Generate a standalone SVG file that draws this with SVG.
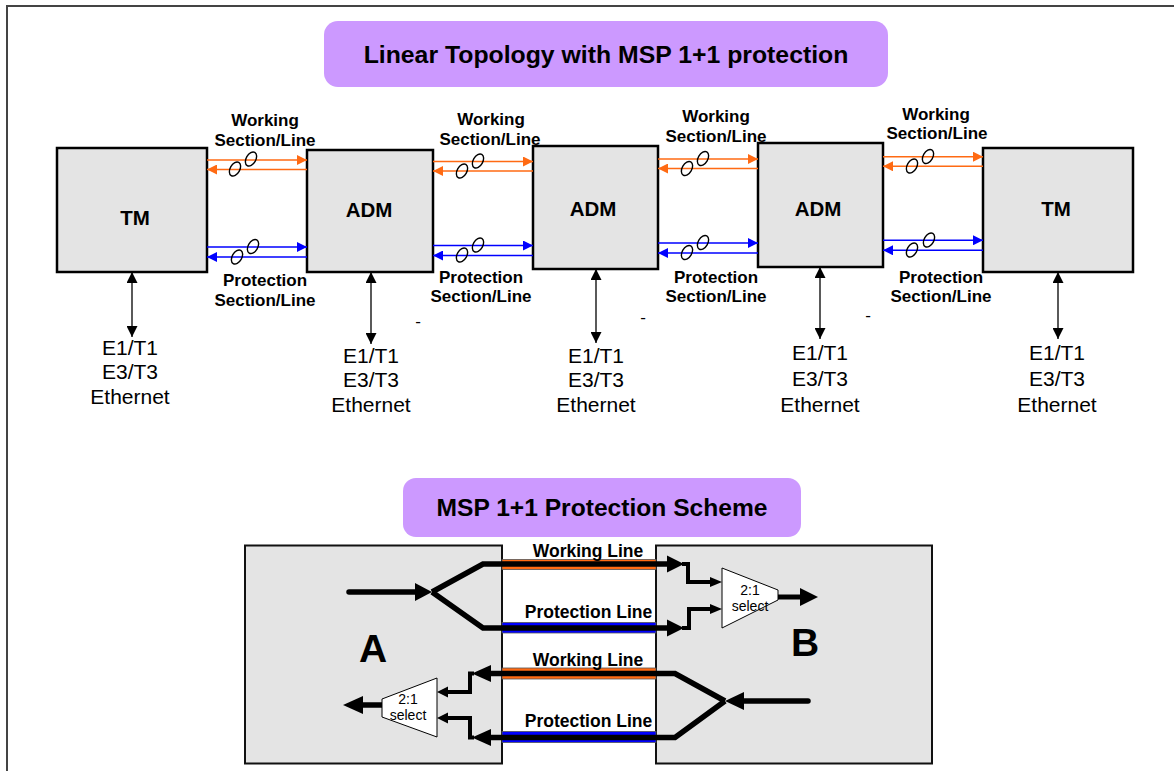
<svg xmlns="http://www.w3.org/2000/svg" width="1174" height="771" viewBox="0 0 1174 771">
<defs>
<style>
.b{font-family:"Liberation Sans",Arial,sans-serif;font-weight:bold;fill:#000}
.r{font-family:"Liberation Sans",Arial,sans-serif;fill:#000}
.node{fill:#e4e4e4;stroke:#000;stroke-width:2.5}
.title{fill:#cc99ff}
.or{stroke:#ff6a13;stroke-width:1.6;fill:none}
.bl{stroke:#0000ff;stroke-width:1.6;fill:none}
.ell{fill:none;stroke:#000;stroke-width:1.4}
.v{stroke:#000;stroke-width:1.3;fill:none}
.thick{stroke:#000;stroke-width:5.5;fill:none;stroke-linejoin:miter}
.thin{stroke:#000;stroke-width:4;fill:none}
.big{fill:#000}
.box{fill:#e4e4e4;stroke:#111;stroke-width:2}
</style>
<marker id="ao" viewBox="0 0 10 10" refX="10" refY="5" markerWidth="11" markerHeight="10" markerUnits="userSpaceOnUse" orient="auto-start-reverse"><path d="M0,0 L10,5 L0,10 z" fill="#ff6a13"/></marker>
<marker id="ab" viewBox="0 0 10 10" refX="10" refY="5" markerWidth="11" markerHeight="10" markerUnits="userSpaceOnUse" orient="auto-start-reverse"><path d="M0,0 L10,5 L0,10 z" fill="#0000ff"/></marker>
<marker id="ak" viewBox="0 0 10 10" refX="10" refY="5" markerWidth="12" markerHeight="11" markerUnits="userSpaceOnUse" orient="auto-start-reverse"><path d="M0,0 L10,5 L0,10 z" fill="#000"/></marker>
<ellipse id="e" cx="0" cy="0" rx="4.8" ry="7.6" transform="rotate(30)" class="ell"/>
</defs>
<rect width="1174" height="771" fill="#fff"/>
<rect x="7" y="6" width="1200" height="820" fill="none" stroke="#444" stroke-width="2"/>

<g id="title1">
<rect class="title" x="324" y="21" width="564" height="66" rx="14"/>
<text class="b" x="606" y="63" font-size="24.8" text-anchor="middle">Linear Topology with MSP 1+1 protection</text>
</g>

<g id="tm1"><rect class="node" x="57" y="148" width="150" height="124"/><text class="b" x="135" y="225" font-size="20.5" text-anchor="middle">TM</text></g>
<g id="adm1"><rect class="node" x="307" y="150" width="126" height="122"/><text class="b" x="369" y="216.5" font-size="20.5" text-anchor="middle">ADM</text></g>
<g id="adm2"><rect class="node" x="533" y="146" width="125" height="123"/><text class="b" x="593" y="215.5" font-size="20.5" text-anchor="middle">ADM</text></g>
<g id="adm3"><rect class="node" x="758" y="143" width="125" height="124"/><text class="b" x="818" y="215.5" font-size="20.5" text-anchor="middle">ADM</text></g>
<g id="tm2"><rect class="node" x="983" y="148" width="150" height="124"/><text class="b" x="1056" y="215.5" font-size="20.5" text-anchor="middle">TM</text></g>

<g id="connectors">
<!-- segment 1 -->
<line class="or" x1="207" y1="160" x2="307" y2="160" marker-end="url(#ao)"/>
<line class="or" x1="307" y1="169.5" x2="207" y2="169.5" marker-end="url(#ao)"/>
<line class="bl" x1="207" y1="247" x2="307" y2="247" marker-end="url(#ab)"/>
<line class="bl" x1="307" y1="257" x2="207" y2="257" marker-end="url(#ab)"/>
<use href="#e" x="251" y="159"/><use href="#e" x="235" y="169"/>
<use href="#e" x="253" y="246.5"/><use href="#e" x="237" y="257"/>
<!-- segment 2 -->
<line class="or" x1="433" y1="161.5" x2="533" y2="161.5" marker-end="url(#ao)"/>
<line class="or" x1="533" y1="171" x2="433" y2="171" marker-end="url(#ao)"/>
<line class="bl" x1="433" y1="245.5" x2="533" y2="245.5" marker-end="url(#ab)"/>
<line class="bl" x1="533" y1="255.5" x2="433" y2="255.5" marker-end="url(#ab)"/>
<use href="#e" x="478" y="161"/><use href="#e" x="462" y="171"/>
<use href="#e" x="478" y="245"/><use href="#e" x="462" y="255"/>
<!-- segment 3 -->
<line class="or" x1="658" y1="159" x2="758" y2="159" marker-end="url(#ao)"/>
<line class="or" x1="758" y1="168.5" x2="658" y2="168.5" marker-end="url(#ao)"/>
<line class="bl" x1="658" y1="243" x2="758" y2="243" marker-end="url(#ab)"/>
<line class="bl" x1="758" y1="253" x2="658" y2="253" marker-end="url(#ab)"/>
<use href="#e" x="703" y="158.5"/><use href="#e" x="687" y="168.5"/>
<use href="#e" x="703" y="242.5"/><use href="#e" x="687" y="252.5"/>
<!-- segment 4 -->
<line class="or" x1="883" y1="156.7" x2="983" y2="156.7" marker-end="url(#ao)"/>
<line class="or" x1="983" y1="166.3" x2="883" y2="166.3" marker-end="url(#ao)"/>
<line class="bl" x1="883" y1="240.3" x2="983" y2="240.3" marker-end="url(#ab)"/>
<line class="bl" x1="983" y1="250.3" x2="883" y2="250.3" marker-end="url(#ab)"/>
<use href="#e" x="928" y="156.5"/><use href="#e" x="912" y="166"/>
<use href="#e" x="929" y="240"/><use href="#e" x="912" y="250"/>
<!-- tributary arrows -->
<line class="v" x1="132" y1="272" x2="132" y2="337" marker-start="url(#ak)" marker-end="url(#ak)"/>
<line class="v" x1="371" y1="272" x2="371" y2="344" marker-start="url(#ak)" marker-end="url(#ak)"/>
<line class="v" x1="596" y1="269" x2="596" y2="343" marker-start="url(#ak)" marker-end="url(#ak)"/>
<line class="v" x1="820" y1="267" x2="820" y2="339" marker-start="url(#ak)" marker-end="url(#ak)"/>
<line class="v" x1="1058" y1="272" x2="1058" y2="339" marker-start="url(#ak)" marker-end="url(#ak)"/>
</g>

<g id="link-labels" class="b" font-size="17" text-anchor="middle">
<text x="265" y="126">Working</text><text x="265" y="146">Section/Line</text>
<text x="265" y="285.5">Protection</text><text x="265" y="305.5">Section/Line</text>
<text x="491" y="124.5">Working</text><text x="490" y="144.5">Section/Line</text>
<text x="481" y="282.5">Protection</text><text x="481" y="302">Section/Line</text>
<text x="716" y="122">Working</text><text x="716" y="142">Section/Line</text>
<text x="716" y="282.5">Protection</text><text x="716" y="302">Section/Line</text>
<text x="936" y="119.5">Working</text><text x="937" y="139">Section/Line</text>
<text x="941" y="282.5">Protection</text><text x="941" y="302">Section/Line</text>
</g>

<g id="tributaries" class="r" font-size="21" text-anchor="middle">
<text x="130" y="355">E1/T1</text><text x="130" y="379">E3/T3</text><text x="130" y="404">Ethernet</text>
<text x="371" y="363">E1/T1</text><text x="371" y="387">E3/T3</text><text x="371" y="412">Ethernet</text>
<text x="596" y="363">E1/T1</text><text x="596" y="387">E3/T3</text><text x="596" y="412">Ethernet</text>
<text x="820" y="360">E1/T1</text><text x="820" y="386">E3/T3</text><text x="820" y="412">Ethernet</text>
<text x="1057" y="360">E1/T1</text><text x="1057" y="386">E3/T3</text><text x="1057" y="412">Ethernet</text>
<text x="418" y="327" font-size="17">-</text><text x="643" y="323" font-size="17">-</text><text x="868" y="321" font-size="17">-</text>
</g>

<g id="title2">
<rect class="title" x="403" y="478" width="398" height="59" rx="13"/>
<text class="b" x="602" y="516" font-size="24.6" text-anchor="middle">MSP 1+1 Protection Scheme</text>
</g>

<g id="nodeA">
<rect class="box" x="245" y="545.5" width="257" height="218"/>
<text class="b" x="373" y="662" font-size="39" text-anchor="middle">A</text>
</g>
<g id="nodeB">
<rect class="box" x="656" y="545.5" width="276" height="218"/>
<text class="b" x="805" y="656" font-size="39" text-anchor="middle">B</text>
</g>

<g id="fibres">
<rect x="502" y="559.5" width="154" height="10" fill="#ff6a13" stroke="#555" stroke-width="0.8"/>
<rect x="502" y="622.5" width="154" height="10.5" fill="#0000ff" stroke="#555" stroke-width="0.8"/>
<rect x="502" y="668" width="154" height="11" fill="#ff6a13" stroke="#555" stroke-width="0.8"/>
<rect x="502" y="731.5" width="154" height="11" fill="#0000ff" stroke="#555" stroke-width="0.8"/>
</g>

<g id="scheme-connectors">
<!-- A to B -->
<line x1="349" y1="592" x2="417" y2="592" stroke="#000" stroke-width="5.5" stroke-linecap="round"/>
<polygon class="big" points="415,583 432,592 415,601"/>
<path class="thick" d="M432,592 L483,564 L668,564"/>
<path class="thick" d="M432,592 L483,628 L668,628"/>
<polygon class="big" points="667,555.5 684,564 667,572.5"/>
<polygon class="big" points="667,619.5 684,628 667,636.5"/>
<path class="thin" d="M682,564 L688,564 L688,582 L712,582"/>
<polygon class="big" points="710,577 722,582 710,587"/>
<path class="thin" d="M682,628 L689,628 L689,609 L712,609"/>
<polygon class="big" points="710,604 722,609 710,614"/>
<line x1="778" y1="597" x2="802" y2="597" stroke="#000" stroke-width="5"/>
<polygon class="big" points="800,588 818,597 800,606"/>
<!-- B to A -->
<line x1="808" y1="701" x2="742" y2="701" stroke="#000" stroke-width="5.5" stroke-linecap="round"/>
<polygon class="big" points="744,692 725,701 744,710"/>
<path class="thick" d="M725,701 L675,673.5 L489,673.5"/>
<path class="thick" d="M725,701 L675,737.5 L489,737.5"/>
<polygon class="big" points="491,665 472,673.5 491,682"/>
<polygon class="big" points="491,729 472,737.5 491,746"/>
<path class="thin" d="M474,673.5 L470,673.5 L470,692 L446,692"/>
<polygon class="big" points="448,686.5 437,692 448,697.5"/>
<path class="thin" d="M474,737.5 L470,737.5 L470,718 L446,718"/>
<polygon class="big" points="448,712.5 437,718 448,723.5"/>
<line x1="382" y1="705" x2="360" y2="705" stroke="#000" stroke-width="5.5"/>
<polygon class="big" points="363,696 343,705 363,714"/>
</g>

<g id="selectorB">
<polygon points="722,568 778,590 778,600 722,628" fill="#fff" stroke="#000" stroke-width="1"/>
<text class="r" x="750" y="595" font-size="14" text-anchor="middle">2:1</text>
<text class="r" x="750" y="611" font-size="14" text-anchor="middle">select</text>
</g>
<g id="selectorA">
<polygon points="437,678 437,737 382,717 382,699" fill="#fff" stroke="#000" stroke-width="1"/>
<text class="r" x="408" y="703.5" font-size="14" text-anchor="middle">2:1</text>
<text class="r" x="408" y="719.5" font-size="14" text-anchor="middle">select</text>
</g>

<g id="fibre-labels" class="b" font-size="17.5" text-anchor="middle">
<text x="588" y="556.5">Working Line</text>
<text x="588.5" y="618">Protection Line</text>
<text x="588" y="666">Working Line</text>
<text x="588.5" y="727">Protection Line</text>
</g>
</svg>
